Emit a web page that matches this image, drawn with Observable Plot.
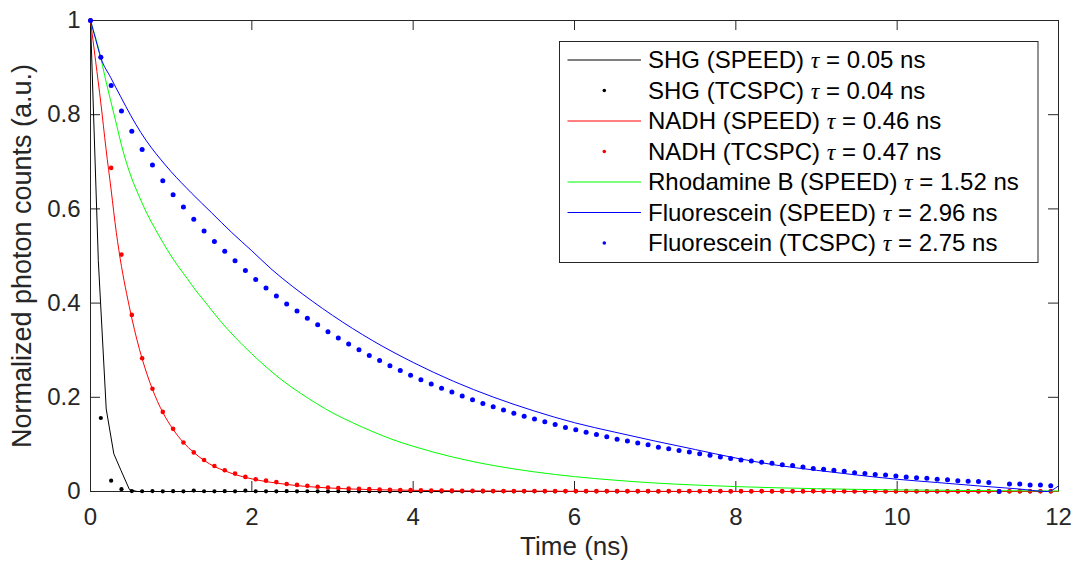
<!DOCTYPE html>
<html><head><meta charset="utf-8">
<script src="https://cdn.jsdelivr.net/npm/d3@7"></script>
<script src="https://cdn.jsdelivr.net/npm/@observablehq/plot@0.6"></script>
<style>body{margin:0;background:#fff}</style>
</head><body><div id="chart"></div>
<script>
// ---- data ----
const tcspcTime = [0, 0.128, 0.256, 0.384, 0.512, 0.64, 0.768, 0.896, 1.024, 1.152, 1.28, 1.408, 1.536, 1.664, 1.792, 1.92, 2.048, 2.176, 2.304, 2.432, 2.56, 2.688, 2.816, 2.944, 3.072, 3.2, 3.328, 3.456, 3.584, 3.712, 3.84, 3.968, 4.096, 4.224, 4.352, 4.48, 4.608, 4.736, 4.864, 4.992, 5.12, 5.248, 5.376, 5.504, 5.632, 5.76, 5.888, 6.016, 6.144, 6.272, 6.4, 6.528, 6.656, 6.784, 6.912, 7.04, 7.168, 7.296, 7.424, 7.552, 7.68, 7.808, 7.936, 8.064, 8.192, 8.32, 8.448, 8.576, 8.704, 8.832, 8.96, 9.088, 9.216, 9.344, 9.472, 9.6, 9.728, 9.856, 9.984, 10.112, 10.24, 10.368, 10.496, 10.624, 10.752, 10.88, 11.008, 11.136, 11.264, 11.392, 11.52, 11.648, 11.776, 11.904];

const shgTcspc = [1.0, 0.156, 0.023, 0.005,
  0.001, 0.0005, 0.0008, 0.0003, 0.0006, 0.0004, 0.002, 0.0005, 0.0003, 0.0006,
  0.0004, 0.0018, 0.0005, 0.0003, 0.0004, 0.0006, 0.0003, 0.0005, 0.0004, 0.0002,
  0.0005, 0.0003, 0.0004, 0.0006, 0.0003, 0.0004, 0.0002, 0.0005, 0.0003, 0.0004,
  0.0002, 0.0004, 0.0003, 0.0005, 0.0002, 0.0003, 0.0004, 0.0002, 0.0003, 0.0004,
  0.0003, 0.0002, 0.0004, 0.0003, 0.0002, 0.0003, 0.0004, 0.0002, 0.0003, 0.0002,
  0.0003, 0.0002, 0.0003, 0.0004, 0.0002, 0.0003, 0.0002, 0.0003, 0.0002, 0.0003,
  0.0002, 0.0003, 0.0002, 0.0002, 0.0003, 0.0002, 0.0003, 0.0002, 0.0002, 0.0003,
  0.0002, 0.0002, 0.0003, 0.0002, 0.0002, 0.0003, 0.0002, 0.0002, 0.0002, 0.0003,
  0.0002, 0.0002, 0.0002, 0.0003, 0.0002, 0.0002, 0.0002, 0.0002, 0.0003, 0.0002];

const nadhTcspc = [1.0, 0.922, 0.687, 0.503, 0.375, 0.283, 0.218, 0.169, 0.133, 0.104,
  0.083, 0.067, 0.054, 0.045, 0.038, 0.031, 0.026, 0.023, 0.02, 0.016,
  0.014, 0.012, 0.01, 0.0085, 0.0075, 0.0065, 0.0057, 0.005, 0.0044, 0.0038,
  0.0033, 0.0029, 0.0025, 0.0022, 0.002, 0.0018, 0.0016, 0.0014, 0.0013, 0.0012, 0.001,
  0.001, 0.0009, 0.0011, 0.0008, 0.001, 0.0009, 0.0008, 0.001, 0.0007, 0.0009,
  0.0008, 0.0007, 0.0009, 0.0008, 0.0006, 0.0008, 0.0007, 0.0009, 0.0006, 0.0007,
  0.0008, 0.0006, 0.0007, 0.0005, 0.0008, 0.0006, 0.0007, 0.0005, 0.0006, 0.0008,
  0.0005, 0.0006, 0.0007, 0.0005, 0.0006, 0.0004, 0.0006, 0.0005, 0.0007, 0.0004,
  0.0005, 0.0006, 0.0004, 0.0005, 0.0006, 0.0004, 0.0005, 0.0004, 0.0006, 0.0005,
  0.0004, 0.0005, 0.0004];

const fluoTcspc = [1.0, 0.922, 0.862, 0.808, 0.765, 0.726, 0.693, 0.66, 0.63, 0.604,
  0.578, 0.553, 0.531, 0.51, 0.49, 0.469, 0.45, 0.432, 0.415, 0.398,
  0.383, 0.368, 0.354, 0.339, 0.326, 0.313, 0.301, 0.289, 0.278, 0.267,
  0.257, 0.247, 0.237, 0.228, 0.219, 0.211, 0.203, 0.195, 0.187, 0.18,
  0.173, 0.166, 0.16, 0.154, 0.148, 0.142, 0.136, 0.131, 0.126, 0.121,
  0.116, 0.111, 0.107, 0.103, 0.099, 0.094, 0.091, 0.087, 0.084, 0.08,
  0.077, 0.073, 0.07, 0.067, 0.065, 0.062, 0.06, 0.057, 0.055, 0.052,
  0.049, 0.047, 0.045, 0.043, 0.04, 0.038, 0.036, 0.035, 0.033, 0.031,
  0.029, 0.028, 0.026, 0.025, 0.023, 0.022, 0.021, 0.019, 0, 0.016,
  0.016, 0.014, 0.014, 0.012];

const shgSpeedTime = [0, 0.097, 0.195, 0.289, 0.38, 0.483, 0.58, 12];
const shgSpeed     = [1, 0.49, 0.175, 0.08, 0.044, 0.004, 0, 0];

const nadhSpeedTime = [0, 0.064, 0.128, 0.192, 0.256, 0.32, 0.384, 0.448, 0.512, 0.576, 0.64, 0.768, 0.896, 1.024, 1.152, 1.28, 1.408, 1.536, 1.664, 1.792, 1.92, 2.048, 2.176, 2.304, 2.432, 2.56, 2.688, 2.816, 2.944, 3.2, 3.5, 4, 5, 6, 8, 12];
const nadhSpeed     = [1, 0.913, 0.825, 0.728, 0.64, 0.55, 0.478, 0.42, 0.368, 0.322, 0.282, 0.217, 0.168, 0.132, 0.104, 0.083, 0.066, 0.053, 0.044, 0.036, 0.03, 0.025, 0.021, 0.018, 0.015, 0.0125, 0.0105, 0.009, 0.0076, 0.0055, 0.004, 0.0025, 0.001, 0.0004, 0.0001, 0];

const rhoSpeedTime = [0, 0.1, 0.2, 0.3, 0.4, 0.5, 0.6, 0.7, 0.8, 0.9, 1.0, 1.1, 1.2, 1.3, 1.4, 1.6, 1.8, 2.0, 2.2, 2.4, 2.6, 2.8, 3.0, 3.25, 3.5, 3.75, 4.0, 4.5, 5.0, 5.5, 6.0, 6.5, 7.0, 7.5, 8.0, 9.0, 10.0, 11.0, 12.0];
const rhoSpeed     = [1.0, 0.94, 0.865, 0.795, 0.725, 0.67, 0.628, 0.59, 0.558, 0.528, 0.5, 0.475, 0.452, 0.428, 0.407, 0.364, 0.326, 0.292, 0.261, 0.233, 0.209, 0.187, 0.167, 0.146, 0.127, 0.11, 0.096, 0.0727, 0.055, 0.0417, 0.0316, 0.024, 0.018, 0.0137, 0.0104, 0.006, 0.0034, 0.002, 0.001];

const fluoSpeedTime = [0, 0.064, 0.128, 0.25, 0.375, 0.5, 0.625, 0.75, 0.875, 1.0, 1.25, 1.5, 1.75, 2.0, 2.25, 2.5, 2.75, 3.0, 3.5, 4.0, 4.5, 5.0, 5.5, 6.0, 6.5, 7.0, 7.5, 8.0, 8.5, 9.0, 9.5, 10.0, 10.5, 11.0, 11.5, 11.86, 12.0];
const fluoSpeed     = [1.0, 0.96, 0.921, 0.879, 0.838, 0.798, 0.762, 0.731, 0.704, 0.679, 0.634, 0.592, 0.55, 0.511, 0.471, 0.436, 0.404, 0.374, 0.32, 0.274, 0.234, 0.2, 0.171, 0.146, 0.126, 0.107, 0.089, 0.071, 0.056, 0.045, 0.035, 0.026, 0.019, 0.012, 0.0055, 0.0, 0.012];

const xTicks = [0, 2, 4, 6, 8, 10, 12];
const yTicks = [0, 0.2, 0.4, 0.6, 0.8, 1];

const legendNames  = ["SHG (SPEED)", "SHG (TCSPC)", "NADH (SPEED)", "NADH (TCSPC)", "Rhodamine B (SPEED)", "Fluorescein (SPEED)", "Fluorescein (TCSPC)"];
const legendTaus   = ["0.05", "0.04", "0.46", "0.47", "1.52", "2.96", "2.75"];
const legendKinds  = ["line", "dot", "line", "dot", "line", "line", "dot"];
const legendColors = ["#000000", "#000000", "#ff0000", "#ff0000", "#00ff00", "#0000ff", "#0000ff"];

// ---- build tables ----
const zip = (t, v) => t.slice(0, Math.min(t.length, v.length)).map((x, i) => ({t: x, v: v[i]}));

const W = 1074, H = 561, mL = 90, mR = 16, mT = 20, mB = 70;
const pw = W - mL - mR, ph = H - mT - mB;
const axisColor = "#262626";
const font = "'Liberation Sans', Arial, Helvetica, sans-serif";

const chart = Plot.plot({
  width: W, height: H,
  marginLeft: mL, marginRight: mR, marginTop: mT, marginBottom: mB,
  x: {domain: [0, 12]},
  y: {domain: [0, 1]},
  style: {fontFamily: font, background: "white", overflow: "visible"},
  marks: [
    Plot.frame({stroke: axisColor, strokeWidth: 1}),
    Plot.ruleX(xTicks, {x: d => d, insetTop: ph - 10, stroke: axisColor}),
    Plot.ruleX(xTicks, {x: d => d, insetBottom: ph - 10, stroke: axisColor}),
    Plot.ruleY(yTicks, {y: d => d, insetRight: pw - 10, stroke: axisColor}),
    Plot.ruleY(yTicks, {y: d => d, insetLeft: pw - 10, stroke: axisColor}),
    Plot.axisX(xTicks, {tickSize: 0, tickPadding: 16, fontSize: 24, label: null, color: axisColor}),
    Plot.axisY(yTicks, {tickSize: 0, tickPadding: 10, fontSize: 24, label: null, color: axisColor, tickFormat: d => String(d)}),
    Plot.text(["Time (ns)"], {frameAnchor: "bottom", lineAnchor: "middle", textAnchor: "middle", dy: 55, fontSize: 26, fill: axisColor}),
    Plot.text(["Normalized photon counts (a.u.)"], {frameAnchor: "left", textAnchor: "middle", lineAnchor: "middle", dx: -68, rotate: -90, fontSize: 27, fill: axisColor}),

    Plot.line(zip(shgSpeedTime, shgSpeed), {x: "t", y: "v", stroke: "#000000", strokeWidth: 1}),
    Plot.dot(zip(tcspcTime, shgTcspc), {x: "t", y: "v", r: 2.1, fill: "#000000"}),
    Plot.line(zip(nadhSpeedTime, nadhSpeed), {x: "t", y: "v", stroke: "#ff0000", strokeWidth: 1, curve: "monotone-x"}),
    Plot.dot(zip(tcspcTime, nadhTcspc), {x: "t", y: "v", r: 2.3, fill: "#ff0000"}),
    Plot.line(zip(rhoSpeedTime, rhoSpeed), {x: "t", y: "v", stroke: "#00ff00", strokeWidth: 1, curve: "monotone-x"}),
    Plot.line(zip(fluoSpeedTime, fluoSpeed), {x: "t", y: "v", stroke: "#0000ff", strokeWidth: 1, curve: "monotone-x"}),
    Plot.dot(zip(tcspcTime, fluoTcspc), {x: "t", y: "v", r: 2.5, fill: "#0000ff"})
  ]
});

// ---- legend ----
const svg = d3.select(chart);
const lg = svg.append("g").attr("font-family", font).attr("font-size", 24).attr("text-anchor", "start");
const bx = 559.5, by = 41.5, bw = 478.5, bh = 221;
lg.append("rect").attr("x", bx).attr("y", by).attr("width", bw).attr("height", bh)
  .attr("fill", "white").attr("stroke", axisColor).attr("stroke-width", 1);
legendNames.forEach((name, i) => {
  const cy = 60 + i * 30.5;
  if (legendKinds[i] === "line") {
    lg.append("line").attr("x1", 567.5).attr("x2", 641).attr("y1", cy).attr("y2", cy)
      .attr("stroke", legendColors[i]).attr("stroke-width", 1);
  } else {
    lg.append("circle").attr("cx", 604.3).attr("cy", cy).attr("r", 1.8).attr("fill", legendColors[i]);
  }
  const t = lg.append("text").attr("x", 648).attr("y", cy).attr("dy", "0.35em").attr("fill", "#000");
  t.append("tspan").text(name + " ");
  t.append("tspan").attr("font-family", "'Liberation Serif', 'DejaVu Serif', serif").attr("font-style", "italic").text("τ");
  t.append("tspan").text(" = " + legendTaus[i] + " ns");
});

document.getElementById("chart").appendChild(chart);
</script>
</body></html>
